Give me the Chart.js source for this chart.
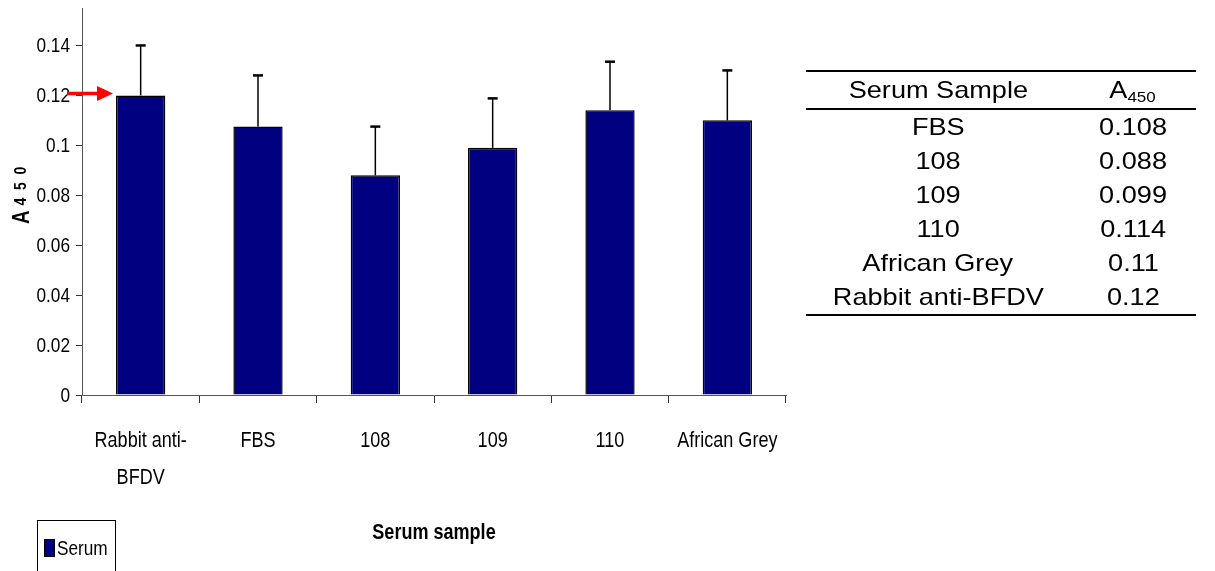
<!DOCTYPE html>
<html>
<head>
<meta charset="utf-8">
<script src="https://cdn.jsdelivr.net/npm/chart.js@4/dist/chart.umd.min.js"></script>
<style>
    html, body { margin: 0; padding: 0; background: #fff; }
    #wrap { position: relative; width: 1215px; height: 571px; overflow: hidden; }
    #chart { position: absolute; left: 0; top: 0; }
    #tbl {
        position: absolute; left: 806px; top: 70px; width: 390px;
        border-collapse: collapse;
        font-family: "Liberation Sans", Arial, sans-serif; font-size: 24px; color: #000;
    }
    #tbl th, #tbl td { text-align: center; padding: 0; font-weight: normal; height: 34px; line-height: 34px; }
    #tbl span { display: inline-block; transform: scaleX(1.13); }
    #tbl thead tr { border-top: 2.5px solid #000; border-bottom: 2.5px solid #000; }
    #tbl thead th { height: 36px; }
    #tbl tbody tr:last-child { border-bottom: 2.5px solid #000; }
    #tbl sub { font-size: 15px; vertical-align: -4px; line-height: 0; }
    #legend {
        position: absolute; left: 37px; top: 520px; width: 79px; height: 60px;
        border: 1px solid #000; box-sizing: border-box;
        font-family: "Liberation Sans", Arial, sans-serif; font-size: 21px;
    }
    #legend .sw { position: absolute; left: 6px; top: 18px; width: 11px; height: 18px; background: #000080; border: 1px solid #000; box-sizing: border-box; }
    #legend .lb { position: absolute; left: 19px; top: 15px; transform: scaleX(0.82); transform-origin: left center; }
</style>
</head>
<body>
<div id="wrap">
    <canvas id="chart" width="1215" height="571"></canvas>
    <table id="tbl">
        <thead><tr><th style="width:264px"><span>Serum Sample</span></th><th><span>A<sub>450</sub></span></th></tr></thead>
        <tbody id="tblBody"></tbody>
    </table>
    <div id="legend"><div class="sw"></div><div class="lb" id="legendLabel"></div></div>
</div>
<script>
// ================= DATOS =================
const categories = [['Rabbit anti-', 'BFDV'], 'FBS', '108', '109', '110', 'African Grey'];
const serumValues = [0.120, 0.1075, 0.088, 0.099, 0.114, 0.110];
const errorTops = [0.140, 0.128, 0.1075, 0.1188, 0.1335, 0.1300];
const seriesLabel = 'Serum';

const tableSamples = ['FBS', '108', '109', '110', 'African Grey', 'Rabbit anti-BFDV'];
const tableA450 = ['0.108', '0.088', '0.099', '0.114', '0.11', '0.12'];

const yTicks = [0, 0.02, 0.04, 0.06, 0.08, 0.1, 0.12, 0.14];

const sans = '"Liberation Sans", Arial, sans-serif';
const NARROW = 0.82; // imitar Arial Narrow

// ================= TABLA Y LEYENDA =================
const body = document.getElementById('tblBody');
tableSamples.forEach((s, i) => {
    const tr = document.createElement('tr');
    tr.innerHTML = '<td><span>' + s + '</span></td><td><span>' + tableA450[i] + '</span></td>';
    body.appendChild(tr);
});
document.getElementById('legendLabel').textContent = seriesLabel;

// texto estrecho (escala horizontal)
function narrowText(ctx, text, x, y, align) {
    ctx.save();
    ctx.translate(x, y);
    ctx.scale(NARROW, 1);
    ctx.textAlign = align;
    ctx.fillText(text, 0, 0);
    ctx.restore();
}

// ================= PLUGIN: etiquetas, barras de error, flecha, títulos =================
const extrasPlugin = {
    id: 'extras',
    afterDraw(chart) {
        const ctx = chart.ctx;
        const meta = chart.getDatasetMeta(0);
        const x = chart.scales.x;
        const y = chart.scales.y;
        const area = chart.chartArea;
        ctx.save();
        ctx.fillStyle = '#000';
        ctx.textBaseline = 'middle';

        // etiquetas eje Y
        ctx.font = '21px ' + sans;
        y.ticks.forEach(t => {
            narrowText(ctx, String(+t.value.toFixed(2)), area.left - 12, y.getPixelForValue(t.value) + 1, 'right');
        });
        // etiquetas eje X
        ctx.font = '22px ' + sans;
        x.ticks.forEach((t, i) => {
            const lines = Array.isArray(t.label) ? t.label : [t.label];
            lines.forEach((ln, j) => {
                narrowText(ctx, ln, x.getPixelForTick(i), area.bottom + 46 + j * 37, 'center');
            });
        });

        // barras de error (solo hacia arriba)
        ctx.strokeStyle = '#000';
        meta.data.forEach((bar, i) => {
            const top = y.getPixelForValue(errorTops[i]);
            ctx.lineWidth = 1.5;
            ctx.beginPath();
            ctx.moveTo(bar.x, bar.y);
            ctx.lineTo(bar.x, top);
            ctx.stroke();
            ctx.lineWidth = 2.5;
            ctx.beginPath();
            ctx.moveTo(bar.x - 5, top);
            ctx.lineTo(bar.x + 5, top);
            ctx.stroke();
        });

        // flecha roja hacia la primera barra
        const b0 = meta.data[0];
        const ay = y.getPixelForValue(serumValues[0]) - 2;
        const x0 = area.left - 15;
        const tip = b0.x - b0.width / 2 - 3;
        ctx.strokeStyle = '#ff0000';
        ctx.fillStyle = '#ff0000';
        ctx.lineWidth = 3.5;
        ctx.beginPath();
        ctx.moveTo(x0, ay);
        ctx.lineTo(tip - 12, ay);
        ctx.stroke();
        ctx.beginPath();
        ctx.moveTo(tip, ay);
        ctx.lineTo(tip - 16, ay - 7.5);
        ctx.lineTo(tip - 16, ay + 7.5);
        ctx.closePath();
        ctx.fill();

        // título eje X
        ctx.fillStyle = '#000';
        ctx.font = 'bold 22px ' + sans;
        narrowText(ctx, 'Serum sample', (area.left + area.right) / 2, 533, 'center');

        // título eje Y: A con 450
        ctx.translate(29, 224);
        ctx.rotate(-Math.PI / 2);
        ctx.scale(NARROW, 1);
        ctx.textBaseline = 'alphabetic';
        ctx.textAlign = 'left';
        ctx.font = 'bold 23px ' + sans;
        ctx.fillText('A', 0, 0);
        const aw = ctx.measureText('A').width;
        ctx.font = 'bold 17px ' + sans;
        ctx.fillText('4  5  0', aw + 6, -3);
        ctx.restore();
    }
};

// ================= GRÁFICO =================
new Chart(document.getElementById('chart'), {
    type: 'bar',
    data: {
        labels: categories,
        datasets: [{
            label: seriesLabel,
            data: serumValues,
            backgroundColor: '#000080',
            borderColor: '#000',
            borderWidth: 1.5,
            barPercentage: 0.42,
            categoryPercentage: 1
        }]
    },
    options: {
        responsive: false,
        animation: false,
        layout: { padding: { left: 0, top: 8, right: 429, bottom: 76 } },
        plugins: {
            legend: { display: false },
            tooltip: { enabled: false }
        },
        scales: {
            x: {
                afterFit(scale) { scale.height = 100; },
                border: { color: '#555', width: 1 },
                grid: { drawOnChartArea: false, offset: true, tickLength: 8, color: '#333' },
                ticks: { display: false, autoSkip: false }
            },
            y: {
                min: 0,
                max: 0.155,
                afterFit(scale) { scale.width = 82; },
                afterBuildTicks(scale) { scale.ticks = yTicks.map(v => ({ value: v })); },
                border: { color: '#555', width: 1 },
                grid: { drawOnChartArea: false, tickLength: 6, color: '#333' },
                ticks: { display: false }
            }
        }
    },
    plugins: [extrasPlugin]
});
</script>
</body>
</html>
